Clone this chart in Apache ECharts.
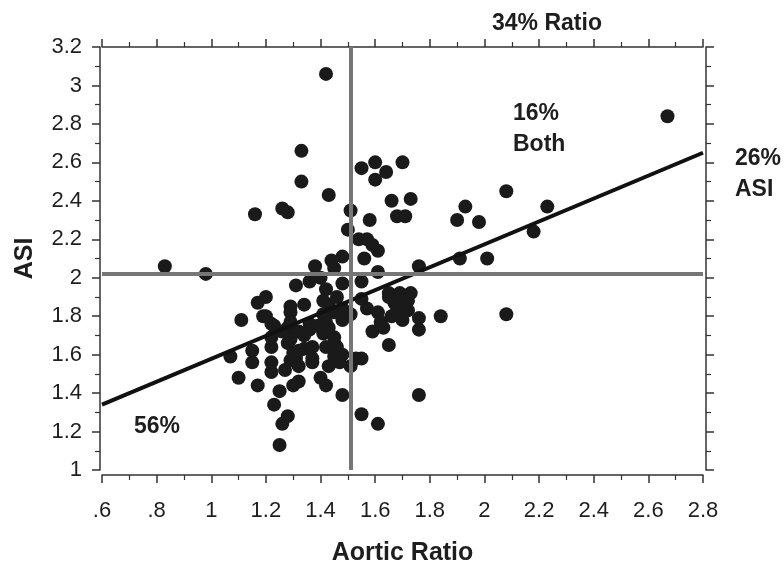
<!DOCTYPE html>
<html>
<head>
<meta charset="utf-8">
<script src="https://cdn.jsdelivr.net/npm/echarts@6/dist/echarts.min.js"></script>
<style>
    html,body{margin:0;padding:0;background:#fff;}
    #myChart{width:784px;height:562px;}
</style>
</head>
<body>
<div id="myChart"></div>
<script>
    // aortic ratio (x) and ASI (y) per patient
    var aorticRatio = [
        1.42,1.33,1.33,1.43,1.16,1.26,1.28,0.83,0.98,1.51,
        1.50,1.48,1.44,1.38,1.45,1.55,1.60,1.64,1.60,1.70,
        1.66,1.73,1.68,1.71,1.58,1.54,1.57,1.59,1.61,1.56,
        1.61,1.76,1.91,2.01,2.18,1.90,1.98,1.93,2.23,2.08,
        2.67,1.84,1.76,1.76,2.08,1.76,1.31,1.36,1.40,1.42,
        1.48,1.55,1.20,1.17,1.11,1.19,1.22,1.29,1.34,1.29,
        1.41,1.43,1.46,1.41,1.42,1.48,1.51,1.57,1.61,1.62,
        1.59,1.65,1.73,1.67,1.70,1.66,1.63,1.65,1.55,1.69,
        1.72,1.65,1.68,1.72,1.70,1.55,1.28,1.32,1.36,1.41,
        1.45,1.48,1.43,1.47,1.53,1.28,1.30,1.31,1.34,1.37,
        1.22,1.22,1.22,1.27,1.15,1.15,1.07,1.10,1.17,1.25,
        1.30,1.32,1.40,1.42,1.23,1.28,1.26,1.25,1.48,1.55,
        1.61,1.51,1.45,1.42,1.46,1.45,1.43,1.36,1.34,1.37,
        1.37,1.32,1.29,1.32,1.29,1.26,1.22,1.29,1.39,1.45,
        1.48,1.20,1.23
    ];
    var asi = [
        3.06,2.66,2.50,2.43,2.33,2.36,2.34,2.06,2.02,2.35,
        2.25,2.11,2.09,2.06,2.05,2.57,2.60,2.55,2.51,2.60,
        2.40,2.41,2.32,2.32,2.30,2.20,2.20,2.17,2.14,2.10,
        2.03,2.06,2.10,2.10,2.24,2.30,2.29,2.37,2.37,2.45,
        2.84,1.80,1.79,1.73,1.81,1.39,1.96,1.98,2.00,1.94,
        1.97,1.98,1.90,1.87,1.78,1.80,1.76,1.85,1.86,1.82,
        1.88,1.86,1.90,1.81,1.77,1.78,1.81,1.84,1.82,1.77,
        1.72,1.92,1.92,1.87,1.88,1.80,1.74,1.65,1.58,1.92,
        1.88,1.90,1.83,1.83,1.78,1.89,1.74,1.72,1.76,1.71,
        1.66,1.60,1.54,1.56,1.58,1.66,1.61,1.58,1.63,1.58,
        1.64,1.56,1.51,1.52,1.62,1.56,1.59,1.48,1.44,1.41,
        1.44,1.46,1.48,1.44,1.34,1.28,1.24,1.13,1.39,1.29,
        1.24,1.54,1.59,1.64,1.64,1.69,1.74,1.73,1.70,1.64,
        1.56,1.54,1.57,1.62,1.68,1.72,1.69,1.77,1.75,1.82,
        1.84,1.80,1.75
    ];
    // regression line end points
    var fitX = [0.6, 2.8];
    var fitY = [1.34, 2.65];
    // cut-offs
    var ratioCut = 1.51;
    var asiCut = 2.02;

    var points = aorticRatio.map(function(x, i){ return [x, asi[i]]; });
    var fitLine = fitX.map(function(x, i){ return [x, fitY[i]]; });

    var ink = '#1e1e1e';
    var axisBase = {
        type: 'value',
        axisLine: {show: true, lineStyle: {color: '#333', width: 1.5}},
        axisTick: {show: true, inside: false, length: 8, lineStyle: {color: '#333', width: 1.5}},
        minorTick: {show: true, splitNumber: 2, length: 5, lineStyle: {color: '#333', width: 1.2}},
        splitLine: {show: false},
        minorSplitLine: {show: false}
    };
    function xAx(extra){ return Object.assign({}, axisBase, {min: 0.6, max: 2.8, interval: 0.2}, extra); }
    function yAx(extra){ return Object.assign({}, axisBase, {min: 1, max: 3.2, interval: 0.2}, extra); }

    var boldText = function(text, x, y, align){
        return {
            type: 'text', x: x, y: y,
            style: {text: text, fill: ink, font: 'bold 23px "Liberation Sans", Arial, sans-serif',
                align: align, textAlign: align, verticalAlign: 'middle', textVerticalAlign: 'middle'}
        };
    };

    var options = {
        animation: false,
        grid: {left: 102, right: 81, top: 47, bottom: 92, containLabel: false, outerBoundsMode: 'none'},
        xAxis: [
            xAx({
                position: 'bottom', offset: 5,
                axisLabel: {
                    fontSize: 22, color: ink, margin: 25, fontFamily: 'Liberation Sans',
                    formatter: function(v){
                        var s = String(+(+v).toFixed(1));
                        return s.charAt(0) === '0' ? s.slice(1) : s;
                    }
                },
                name: 'Aortic Ratio', nameLocation: 'middle', nameGap: 66,
                nameTextStyle: {fontSize: 25, fontWeight: 'bold', color: ink, fontFamily: 'Liberation Sans'}
            }),
            xAx({position: 'top', offset: 0, axisLabel: {show: false}})
        ],
        yAxis: [
            yAx({
                position: 'left', offset: 2,
                axisLabel: {fontSize: 22, color: ink, margin: 18, fontFamily: 'Liberation Sans'},
                name: 'ASI', nameLocation: 'middle', nameGap: 62,
                nameTextStyle: {fontSize: 25, fontWeight: 'bold', color: ink, fontFamily: 'Liberation Sans'}
            }),
            yAx({position: 'right', offset: 3, axisLabel: {show: false}})
        ],
        series: [
            {
                name: 'patients', type: 'scatter', data: points,
                symbol: 'circle', symbolSize: 14,
                itemStyle: {color: '#1a1a1a', opacity: 1}, z: 2
            },
            {
                name: 'fit', type: 'line', data: fitLine, symbol: 'none',
                lineStyle: {color: '#111', width: 4}, z: 3, clip: true
            },
            {
                name: 'cutoffs', type: 'line', data: [], z: 4,
                markLine: {
                    silent: true, symbol: 'none', animation: false,
                    label: {show: false},
                    lineStyle: {color: '#767676', width: 4, type: 'solid'},
                    data: [{xAxis: ratioCut}, {yAxis: asiCut}]
                }
            }
        ],
        graphic: [
            boldText('34% Ratio', 547, 24, 'center'),
            boldText('16%', 513, 114, 'left'),
            boldText('Both', 513, 145, 'left'),
            boldText('26%', 735, 159, 'left'),
            boldText('ASI', 735, 190, 'left'),
            boldText('56%', 134, 427, 'left')
        ]
    };

    var myChart = echarts.init(document.getElementById('myChart'));
    myChart.setOption(options);
</script>
</body>
</html>
